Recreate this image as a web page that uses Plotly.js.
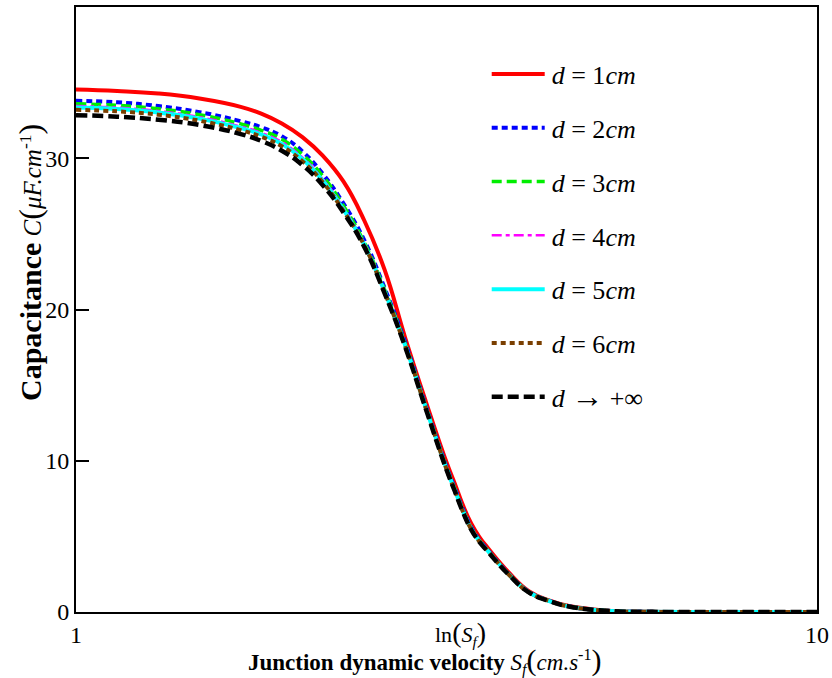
<!DOCTYPE html>
<html>
<head>
<meta charset="utf-8">
<script src="https://cdn.plot.ly/plotly-3.0.1.min.js"></script>
<style>
html,body{margin:0;padding:0;background:#fff;}
#chart{width:832px;height:678px;}
</style>
</head>
<body>
<div id="chart"></div>
<script>
// ln(Sf) values
const lnSf = [1, 1.5, 2, 2.5, 3, 3.25, 3.5, 3.75, 4, 4.25, 4.5, 4.75, 5, 5.25, 5.5, 5.6, 5.7, 5.8, 5.9, 6, 6.25, 6.5, 6.75, 7, 7.5, 8, 9, 10];
// Capacitance C (µF.cm^-1) for each depth d
const capD1  = [34.55, 34.45, 34.28, 33.95, 33.4, 32.95, 32.3, 31.4, 30.15, 28.45, 25.9, 22.6, 18.1, 13.9, 9.9, 8.5, 7.05, 5.85, 4.95, 4.25, 2.65, 1.38, 0.76, 0.38, 0.07, 0.01, 0, 0];
const capD2  = [33.8, 33.7, 33.45, 33.05, 32.45, 32.05, 31.45, 30.45, 28.95, 27.0, 24.6, 21.4, 17.8, 13.6, 9.6, 8.2, 6.8, 5.6, 4.75, 4.1, 2.55, 1.33, 0.74, 0.36, 0.06, 0.01, 0, 0];
const capD3  = [33.6, 33.5, 33.27, 32.88, 32.27, 31.85, 31.25, 30.25, 28.8, 26.85, 24.45, 21.3, 17.7, 13.55, 9.55, 8.15, 6.75, 5.55, 4.72, 4.08, 2.54, 1.32, 0.73, 0.36, 0.06, 0.01, 0, 0];
const capD4  = [33.45, 33.35, 33.12, 32.72, 32.1, 31.68, 31.07, 30.05, 28.6, 26.7, 24.35, 21.2, 17.65, 13.5, 9.5, 8.1, 6.7, 5.52, 4.7, 4.06, 2.53, 1.31, 0.73, 0.36, 0.06, 0.01, 0, 0];
const capD5  = [33.35, 33.25, 33.02, 32.62, 32.0, 31.57, 30.95, 29.95, 28.5, 26.6, 24.3, 21.15, 17.6, 13.48, 9.48, 8.07, 6.67, 5.5, 4.68, 4.05, 2.52, 1.31, 0.72, 0.35, 0.06, 0.01, 0, 0];
const capD6  = [33.2, 33.1, 32.88, 32.48, 31.86, 31.42, 30.8, 29.8, 28.4, 26.5, 24.25, 21.1, 17.55, 13.45, 9.45, 8.03, 6.63, 5.47, 4.65, 4.03, 2.51, 1.3, 0.72, 0.35, 0.06, 0.01, 0, 0];
const capInf = [32.85, 32.75, 32.55, 32.2, 31.6, 31.15, 30.5, 29.55, 28.2, 26.4, 24.15, 21.05, 17.5, 13.4, 9.4, 8.0, 6.6, 5.45, 4.63, 4.0, 2.5, 1.3, 0.72, 0.35, 0.06, 0.01, 0, 0];

const seriesNames = [
  '<i>d</i> = 1<i>cm</i>', '<i>d</i> = 2<i>cm</i>', '<i>d</i> = 3<i>cm</i>',
  '<i>d</i> = 4<i>cm</i>', '<i>d</i> = 5<i>cm</i>', '<i>d</i> = 6<i>cm</i>',
  '<i>d</i> <span style="font-size:32px">→</span> +∞'
];
const xTickVals = [1, 10];
const xTickText = ['1', '10'];
const yTickVals = [0, 10, 20, 30];

const series = [capD1, capD2, capD3, capD4, capD5, capD6, capInf];
const styles = [
  {color:'#ff0000', width:4, dash:'solid'},
  {color:'#0000ff', width:4, dash:'6px,4px'},
  {color:'#00ee00', width:3.5, dash:'10px,5px'},
  {color:'#ff00ff', width:2.5, dash:'10px,4px,4px,4px'},
  {color:'#00ffff', width:4, dash:'solid'},
  {color:'#7a3f00', width:4, dash:'5px,4px'},
  {color:'#000000', width:4.5, dash:'11px,5px'}
];

const traces = series.map((y, i) => ({
  x: lnSf, y: y, type: 'scatter', mode: 'lines',
  name: seriesNames[i], legendgroup: 'g' + i,
  line: Object.assign({shape:'spline', smoothing:1.3}, styles[i])
}));

const F = 'Liberation Serif, Times New Roman, serif';
const P = (s, sz) => '<span style="font-size:' + sz + 'px">' + s + '</span>';
const layout = {
  width: 832, height: 678,
  margin: {l:76, r:15, t:7, b:66},
  paper_bgcolor: '#fff', plot_bgcolor: '#fff',
  font: {family: F, color: '#000', size: 22},
  showlegend: true,
  legend: {
    x: 0.588, y: 0.928, xanchor: 'left', yanchor: 'top',
    bgcolor: 'rgba(0,0,0,0)', borderwidth: 0,
    font: {family: F, size: 26, color: '#000'},
    traceorder: 'grouped', tracegroupgap: 17, itemwidth: 30
  },
  xaxis: {
    range: [1, 10], tickvals: xTickVals, ticktext: xTickText,
    ticks: '', showgrid: false, zeroline: false,
    showline: true, mirror: true, linecolor: '#000', linewidth: 2,
    tickfont: {family: F, size: 24, color: '#000'}
  },
  yaxis: {
    range: [0, 40], tickvals: yTickVals,
    ticks: 'inside', ticklen: 13, tickwidth: 2, tickcolor: '#000',
    showgrid: false, zeroline: false,
    showline: true, mirror: true, linecolor: '#000', linewidth: 2,
    tickfont: {family: F, size: 24, color: '#000'}
  },
  annotations: [
    {
      x: (460 - 76) / 741, y: (612 - 633) / 605, xref: 'paper', yref: 'paper',
      xanchor: 'center', yanchor: 'middle',
      text: 'ln' + P('(', 28) + '<i>S<sub>f</sub></i>' + P(')', 28), showarrow: false,
      font: {family: F, size: 22, color: '#000'}
    },
    {
      x: (425 - 76) / 741, y: (612 - 661) / 605, xref: 'paper', yref: 'paper',
      xanchor: 'center', yanchor: 'middle',
      text: '<b>Junction dynamic velocity</b> <i>S<sub>f</sub></i>' + P('(', 30) + '<i>cm.s</i><sup>-1</sup>' + P(')', 30),
      showarrow: false, font: {family: F, size: 23, color: '#000'}
    },
    {
      x: (30 - 76) / 741, y: (612 - 263) / 605, xref: 'paper', yref: 'paper',
      xanchor: 'center', yanchor: 'middle', textangle: -90,
      text: P('<b>Capacitance</b>', 30) + ' <i>C</i>' + P('(', 32) + '<i>μF.cm</i><sup>-1</sup>' + P(')', 32),
      showarrow: false, font: {family: F, size: 25, color: '#000'}
    }
  ]
};

Plotly.newPlot('chart', traces, layout, {displayModeBar: false, staticPlot: true}).then(function (gd) {
  // lengthen the legend line samples to match the reference
  gd.querySelectorAll('.legend .scrollbox').forEach(function (el) { el.removeAttribute('clip-path'); });
  gd.querySelectorAll('.legend').forEach(function (el) { el.removeAttribute('clip-path'); });
  gd.querySelectorAll('.legend .legendlines path').forEach(function (p) { p.setAttribute('d', 'M-20,0h53'); });
});
</script>
</body>
</html>
